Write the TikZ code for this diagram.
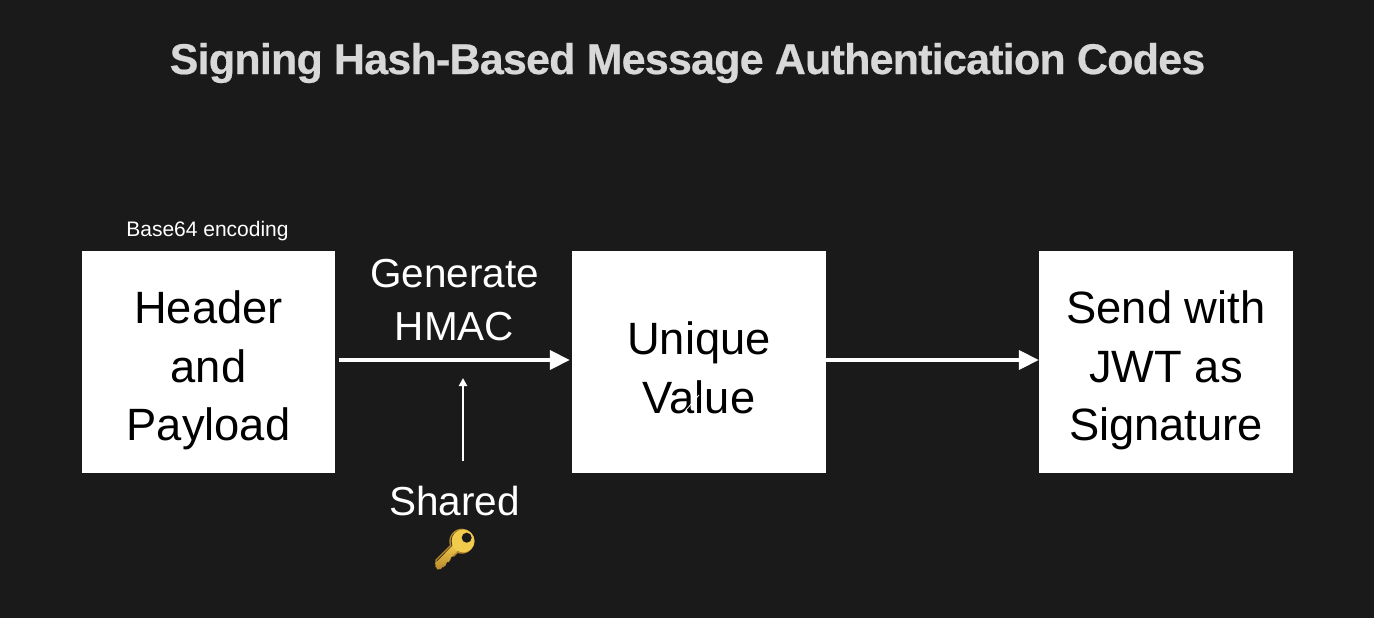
\documentclass[tikz,border=0pt]{standalone}
\usepackage{fontspec}
\setmainfont{Liberation Sans}
\newfontfamily\emojifont{Noto Emoji}
\newfontfamily\titlefont[UprightFont=* Bold,FakeBold=0.5,LetterSpace=-1.8]{Liberation Sans}
\usetikzlibrary{arrows.meta}
\definecolor{bgdark}{HTML}{1A1A1A}
\definecolor{titlegrey}{HTML}{D8D8D8}
\definecolor{keytop}{HTML}{F0CB4C}
\definecolor{keylow}{HTML}{B98A2C}
\tikzset{
  card/.style={fill=white,draw=none,minimum width=#1,minimum height=222pt,inner sep=0pt,align=center,text=black,font=\fontsize{45.3}{58.5}\selectfont},
  flow/.style={draw=white,line width=4pt,-{Triangle[length=20pt,width=19pt]}},
  thinflow/.style={draw=white,line width=2pt,-{Triangle[length=8pt,width=8pt]}},
  lab/.style={text=white,align=center,inner sep=0pt,font=\fontsize{40.5}{53}\selectfont}
}
\begin{document}
\begin{tikzpicture}[x=1pt,y=-1pt]
\useasboundingbox[fill=bgdark] (0,0) rectangle (1374,618);
\node[text=titlegrey,inner sep=0pt,font=\titlefont\fontsize{43}{48}\selectfont] (title) at (687.5,63) {Signing Hash-Based Message Authentication Codes};
\node[card=253pt] (hp) at (208.5,362) {\rule{0pt}{50pt}Header\\and\\Payload};
\node[card=254pt] (uv) at (699,362) {\rule{0pt}{44pt}Unique\\Value};
\node[card=254pt] (jwt) at (1166,362) {\rule{0pt}{50pt}Send with\\JWT as\\Signature};
\node[text=white,inner sep=0pt,font=\fontsize{21}{24}\selectfont] (b64) at (207.5,231) {Base64 encoding};
\node[lab] (gen) at (454.5,300.5) {Generate\\HMAC};
\node[lab] (shared) at (454.5,501) {Shared};
\node[text=keylow,inner sep=0pt,font=\emojifont\fontsize{38}{38}\selectfont] (key) at (455,549) {🔑};
\shade[top color=keytop,bottom color=keylow,shading angle=0]
  (454,544) -- (435.5,563) -- (437,569.5) -- (441,569) -- (443,565.5) -- (445,566) -- (447,562) -- (449,562) -- (451,557.5) -- (459,550) -- cycle;
\fill[keytop] (463,541) circle[radius=11.5];
\fill[bgdark] (466.7,537.7) circle[radius=5];
\coordinate (thinstart) at (463,461);
\coordinate (thinend) at (463,378);
\coordinate (nicka) at (686,410);
\coordinate (nickb) at (699,395);
\draw[flow,shorten <=4pt,shorten >=2pt] ([yshift=2pt]hp.east) -- ([yshift=2pt]uv.west);
\draw[flow] ([yshift=2pt]uv.east) -- ([yshift=2pt]jwt.west);
\draw[thinflow] (thinstart) -- (thinend);
\draw[white,line width=0.8pt] (nicka) -- (nickb);
\end{tikzpicture}
\end{document}
